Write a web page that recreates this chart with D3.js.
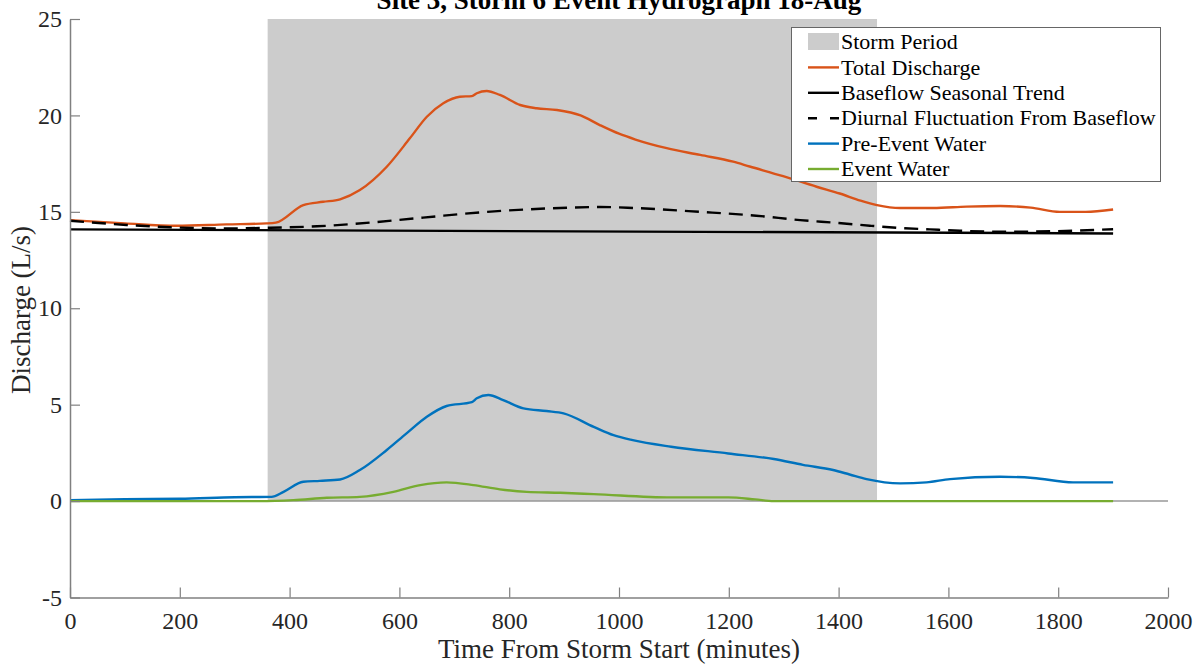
<!DOCTYPE html>
<html><head><meta charset="utf-8">
<script src="https://cdn.jsdelivr.net/npm/d3@7"></script>
<style>
html,body{margin:0;padding:0;background:#fff;}
svg{display:block;}
svg text{font-family:"Liberation Serif","Times New Roman",serif;}
</style></head>
<body><svg id="chart" width="1196" height="666"></svg>
<script>
const titleText = "Site 3, Storm 6 Event Hydrograph 18-Aug";
const xLabel = "Time From Storm Start (minutes)";
const yLabel = "Discharge (L/s)";
const xTicks = [0, 200, 400, 600, 800, 1000, 1200, 1400, 1600, 1800, 2000];
const yTicks = [-5, 0, 5, 10, 15, 20, 25];
const stormPeriod = [360, 1470];
const stormTop = 25;

const totalX = [0, 100, 194, 285, 358, 375, 425, 461, 492, 528, 577, 619, 650, 680, 710, 732, 741, 759, 783, 820, 850, 887, 930, 965, 1000, 1030, 1087, 1148, 1208, 1238, 1299, 1360, 1402, 1440, 1470, 1512, 1572, 1633, 1694, 1750, 1803, 1850, 1900];
const totalY = [14.57, 14.4, 14.28, 14.35, 14.4, 14.44, 15.35, 15.52, 15.65, 16.13, 17.34, 18.81, 19.93, 20.63, 20.97, 21.0, 21.15, 21.27, 21.06, 20.54, 20.37, 20.28, 20.0, 19.5, 19.05, 18.75, 18.3, 17.95, 17.6, 17.35, 16.85, 16.3, 15.95, 15.58, 15.35, 15.2, 15.2, 15.27, 15.3, 15.22, 15.0, 15.0, 15.12];

const baseX = [0, 1900];
const baseY = [14.09, 13.88];

const diurX = [0, 103, 182, 285, 358, 450, 516, 643, 760, 874, 965, 1026, 1148, 1250, 1330, 1400, 1457, 1520, 1566, 1621, 1700, 1800, 1900];
const diurY = [14.54, 14.32, 14.2, 14.14, 14.17, 14.25, 14.37, 14.7, 15.0, 15.18, 15.25, 15.2, 15.0, 14.8, 14.57, 14.42, 14.28, 14.15, 14.09, 14.02, 13.97, 14.0, 14.1];

const preX = [0, 100, 200, 300, 367, 389, 425, 455, 492, 528, 577, 613, 650, 686, 732, 741, 762, 789, 826, 868, 899, 954, 990, 1025, 1095, 1199, 1282, 1335, 1390, 1420, 1451, 1512, 1560, 1603, 1694, 1754, 1827, 1900];
const preY = [0.05, 0.1, 0.12, 0.2, 0.22, 0.48, 1.0, 1.05, 1.12, 1.61, 2.65, 3.51, 4.37, 4.93, 5.13, 5.33, 5.5, 5.24, 4.81, 4.67, 4.55, 3.85, 3.42, 3.16, 2.82, 2.47, 2.18, 1.88, 1.61, 1.38, 1.14, 0.92, 0.97, 1.14, 1.26, 1.2, 0.97, 0.97];

const evX = [0, 346, 407, 468, 528, 589, 638, 686, 735, 783, 832, 893, 954, 1095, 1199, 1248, 1282, 1900];
const evY = [0, 0, 0.05, 0.17, 0.22, 0.48, 0.83, 0.97, 0.83, 0.61, 0.48, 0.43, 0.36, 0.19, 0.19, 0.09, 0, 0];

const legendLabels = ["Storm Period", "Total Discharge", "Baseflow Seasonal Trend", "Diurnal Fluctuation From Baseflow", "Pre-Event Water", "Event Water"];

const colors = {total: "#D95319", base: "#000000", diur: "#000000", pre: "#0072BD", ev: "#77AC30", storm: "#CCCCCC", axis: "#808080"};
const serif = "'Liberation Serif', 'Times New Roman', serif";

const svg = d3.select("#chart");
const x = d3.scaleLinear().domain([0, 2000]).range([70, 1168]);
const y = d3.scaleLinear().domain([-5, 25]).range([597.5, 19]);

// storm period patch
svg.append("rect")
  .attr("x", x(stormPeriod[0])).attr("y", y(stormTop))
  .attr("width", x(stormPeriod[1]) - x(stormPeriod[0]))
  .attr("height", y(0) - y(stormTop))
  .attr("fill", colors.storm);

// zero reference line
svg.append("line")
  .attr("x1", x(0)).attr("x2", x(2000)).attr("y1", y(0)).attr("y2", y(0))
  .attr("stroke", "#999999").attr("stroke-width", 1.5);

function drawLine(xs, ys, color, dash) {
  const data = xs.map((d, i) => [d, ys[i]]);
  const line = d3.line().x(d => x(d[0])).y(d => y(d[1])).curve(d3.curveMonotoneX);
  const p = svg.append("path").datum(data).attr("d", line)
    .attr("fill", "none").attr("stroke", color).attr("stroke-width", 2.4)
    .attr("stroke-linejoin", "round");
  if (dash) p.attr("stroke-dasharray", dash);
}
drawLine(totalX, totalY, colors.total);
drawLine(baseX, baseY, colors.base);
drawLine(diurX, diurY, colors.diur, "14,8");
drawLine(preX, preY, colors.pre);
drawLine(evX, evY, colors.ev);

// axes
const fmt = d => String(d);
const xAxis = d3.axisBottom(x).tickValues(xTicks).tickSizeInner(-10).tickSizeOuter(0).tickPadding(14).tickFormat(fmt);
const yAxis = d3.axisLeft(y).tickValues(yTicks).tickSizeInner(-10).tickSizeOuter(0).tickPadding(8).tickFormat(fmt);
const gx = svg.append("g").attr("transform", `translate(0,${y(-5)})`).call(xAxis);
const gy = svg.append("g").attr("transform", `translate(${x(0)},0)`).call(yAxis);
[gx, gy].forEach(g => {
  g.attr("font-family", serif).attr("font-size", 24);
  g.select(".domain").attr("stroke", colors.axis).attr("stroke-width", 1.5);
  g.selectAll(".tick line").attr("stroke", colors.axis).attr("stroke-width", 1.2);
  g.selectAll(".tick text").attr("fill", "#262626");
});
gx.selectAll(".tick text").attr("dy", "0.71em");
gy.selectAll(".tick text").attr("dy", "0.32em");

// labels
svg.append("text").attr("x", 619).attr("y", 658).attr("text-anchor", "middle")
  .attr("font-size", 27).attr("fill", "#262626").text(xLabel);
svg.append("text").attr("transform", "translate(30,310) rotate(-90)").attr("text-anchor", "middle")
  .attr("font-size", 27).attr("fill", "#262626").text(yLabel);
svg.append("text").attr("x", 619).attr("y", 9).attr("text-anchor", "middle")
  .attr("font-size", 27).attr("font-weight", "bold").attr("fill", "#000").text(titleText);

// legend
const lg = svg.append("g");
lg.append("rect").attr("x", 791.5).attr("y", 27.5).attr("width", 369).attr("height", 154)
  .attr("fill", "#fff").attr("stroke", "#666").attr("stroke-width", 1);
const rowY = i => 42 + i * 25.4;
legendLabels.forEach((lab, i) => {
  const cy = rowY(i);
  if (i === 0) {
    lg.append("rect").attr("x", 808).attr("y", cy - 9).attr("width", 31).attr("height", 17).attr("fill", colors.storm);
  } else {
    const col = [null, colors.total, colors.base, colors.diur, colors.pre, colors.ev][i];
    const l = lg.append("line").attr("x1", 808).attr("x2", 839).attr("y1", cy).attr("y2", cy)
      .attr("stroke", col).attr("stroke-width", 2.4);
    if (i === 3) l.attr("stroke-dasharray", "9,13");
  }
  lg.append("text").attr("x", 841).attr("y", cy).attr("dy", "0.33em")
    .attr("font-size", 22).attr("fill", "#000").text(lab);
});
</script></body></html>
